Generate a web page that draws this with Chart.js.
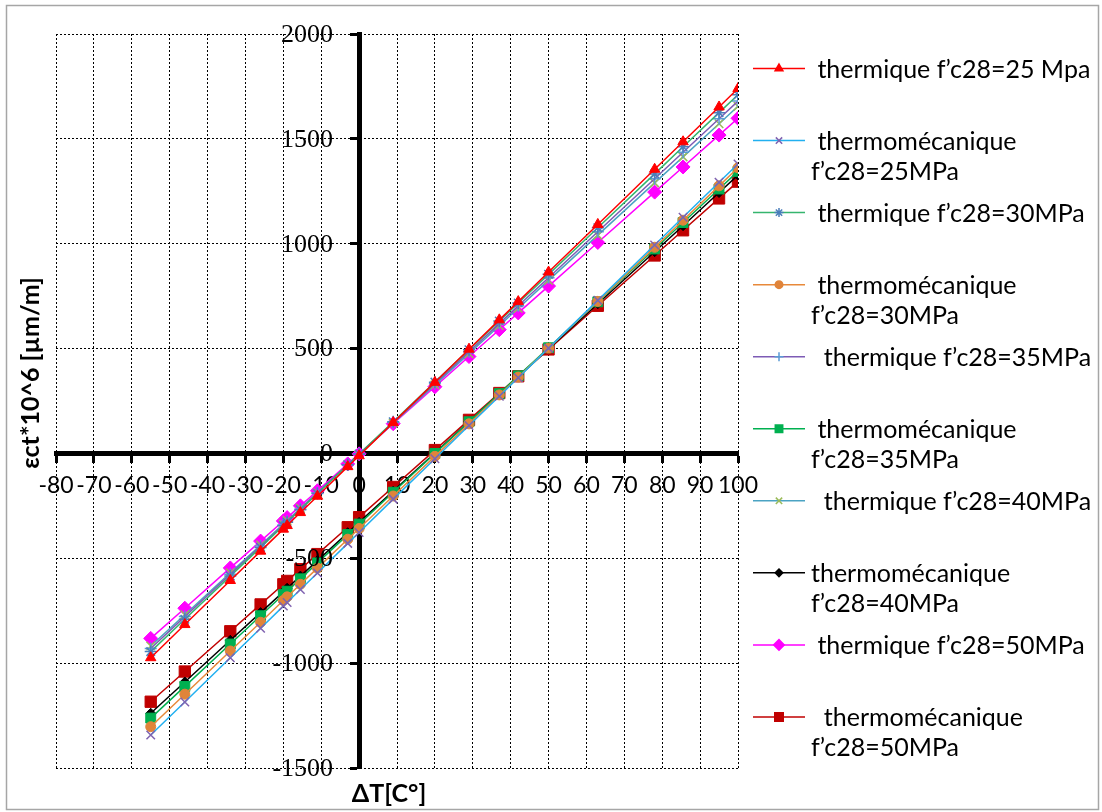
<!DOCTYPE html>
<html>
<head>
<meta charset="utf-8">
<title>Déformation thermique et thermomécanique</title>
<script src="https://cdn.jsdelivr.net/npm/chart.js@4.4.1/dist/chart.umd.min.js"></script>
<style>
  html, body { margin: 0; padding: 0; background: #fff; }
  #wrap { position: relative; width: 1102px; height: 812px; }
</style>
</head>
<body>
<div id="wrap"><canvas id="chart"></canvas></div>
<script>
// Temperature variation ΔT [°C]
const deltaT = [-55, -46, -34, -26, -20, -19, -15.5, -11, -3, 0, 9, 20, 29, 37, 42, 50, 63, 78, 85.5, 95, 100];

// Strain εct*10^6 [µm/m] per series
const thermique25 = [-974, -816, -606, -466, -361, -344, -282, -204, -63, -11, 147, 339, 497, 637, 724, 865, 1092, 1355, 1486, 1652, 1740];
const thermomeca25 = [-1343, -1185, -974, -834, -728, -711, -649, -570, -429, -377, -218, -25, 133, 273, 361, 502, 730, 994, 1126, 1293, 1380];
const thermique30 = [-945, -791, -585, -448, -345, -328, -268, -191, -54, -3, 151, 340, 494, 631, 717, 854, 1076, 1333, 1462, 1625, 1710];
const thermomeca30 = [-1303, -1148, -942, -805, -701, -684, -624, -547, -409, -358, -203, -14, 141, 279, 364, 502, 725, 983, 1112, 1276, 1362];
const thermique35 = [-930, -778, -576, -442, -341, -324, -265, -189, -54, -4, 148, 333, 485, 619, 704, 838, 1057, 1310, 1436, 1596, 1680];
const thermomeca35 = [-1262, -1111, -909, -774, -673, -657, -598, -522, -387, -337, -185, 0, 151, 285, 370, 504, 723, 975, 1101, 1261, 1345];
const thermique40 = [-918, -769, -569, -437, -337, -320, -262, -188, -55, -5, 144, 327, 476, 609, 692, 825, 1041, 1290, 1414, 1572, 1655];
const thermomeca40 = [-1239, -1090, -891, -759, -660, -643, -585, -511, -378, -329, -180, 2, 151, 284, 366, 499, 714, 962, 1086, 1244, 1327];
const thermique50 = [-882, -738, -546, -418, -322, -306, -250, -178, -50, -2, 142, 318, 462, 590, 670, 798, 1006, 1246, 1366, 1518, 1598];
const thermomeca50 = [-1184, -1040, -848, -720, -624, -608, -552, -480, -352, -304, -160, 16, 160, 288, 368, 496, 704, 944, 1064, 1216, 1296];

// Series names (legend text, "\n" marks the wrap)
const seriesNames = [
  ' thermique f’c28=25 Mpa',
  ' thermomécanique\nf’c28=25MPa',
  ' thermique f’c28=30MPa',
  ' thermomécanique\nf’c28=30MPa',
  '  thermique f’c28=35MPa',
  ' thermomécanique\nf’c28=35MPa',
  '  thermique f’c28=40MPa',
  'thermomécanique\nf’c28=40MPa',
  ' thermique f’c28=50MPa',
  '  thermomécanique\nf’c28=50MPa'
];

// Axis ticks
const xTicks = [-80, -70, -60, -50, -40, -30, -20, -10, 0, 10, 20, 30, 40, 50, 60, 70, 80, 90, 100];
const yTicks = [-1500, -1000, -500, 0, 500, 1000, 1500, 2000];

const seriesValues = [thermique25, thermomeca25, thermique30, thermomeca30, thermique35,
                      thermomeca35, thermique40, thermomeca40, thermique50, thermomeca50];

// Line colour, marker colour, marker shape, marker radius
const styles = [
  { line: '#FF0000', mark: '#FF0000', shape: 'triangle',  r: 6 },
  { line: '#22B0F0', mark: '#7F62B0', shape: 'crossRot',  r: 6 },
  { line: '#35B56E', mark: '#4A7EBB', shape: 'star',      r: 6 },
  { line: '#E8893A', mark: '#E0843A', shape: 'circle',    r: 5 },
  { line: '#7D5BB5', mark: '#5B9BD5', shape: 'cross',     r: 6 },
  { line: '#00B050', mark: '#00B050', shape: 'rect',      r: 7 },
  { line: '#4BA3C3', mark: '#9BBB59', shape: 'crossRot',  r: 6 },
  { line: '#000000', mark: '#000000', shape: 'rectRot',   r: 5 },
  { line: '#FF00FF', mark: '#FF00FF', shape: 'rectRot',   r: 7 },
  { line: '#C00000', mark: '#C00000', shape: 'rect',      r: 8 }
];

const datasets = seriesValues.map((vals, i) => {
  const s = styles[i];
  const open = (s.shape === 'crossRot' || s.shape === 'cross' || s.shape === 'star');
  return {
    label: seriesNames[i].trim().replace('\n', ' '),
    data: vals.map((v, k) => ({ x: deltaT[k], y: v })),
    showLine: true,
    borderColor: s.line,
    borderWidth: 1.5,
    pointStyle: s.shape,
    pointRadius: s.r,
    pointHoverRadius: s.r,
    pointBackgroundColor: s.mark,
    pointBorderColor: s.mark,
    pointBorderWidth: open ? 1.5 : 1
  };
});

function drawMarker(ctx, shape, r, x, y) {
  if (Chart.helpers && Chart.helpers.drawPoint) {
    Chart.helpers.drawPoint(ctx, { pointStyle: shape, radius: r, rotation: 0, borderWidth: ctx.lineWidth }, x, y);
    return;
  }
  ctx.beginPath();
  ctx.arc(x, y, r, 0, Math.PI * 2);
  ctx.fill();
}

// Frame, vertical-axis labels, legend and axis titles
const decorations = {
  id: 'decorations',
  beforeDraw(chart) {
    const ctx = chart.ctx;
    ctx.save();
    ctx.fillStyle = '#fff';
    ctx.fillRect(0, 0, chart.width, chart.height);
    ctx.strokeStyle = '#A6A6A6';
    ctx.lineWidth = 1.5;
    ctx.strokeRect(6.5, 5.5, 1092, 804);
    ctx.restore();
  },
  afterDraw(chart) {
    const ctx = chart.ctx;
    const xs = chart.scales.x, ys = chart.scales.y;
    ctx.save();
    // labels of the vertical axis, set just left of its tick marks
    const axisX = xs.getPixelForValue(0);
    ctx.fillStyle = '#000';
    ctx.font = '26px "Liberation Serif"';
    ctx.textAlign = 'right';
    ctx.textBaseline = 'middle';
    yTicks.forEach(v => {
      ctx.fillText(String(v), axisX - 26, ys.getPixelForValue(v) + 1);
    });
    // legend
    const x0 = 753, x1 = 805, tx = 811;
    ctx.font = '25px Lato';
    ctx.textBaseline = 'alphabetic';
    ctx.textAlign = 'left';
    seriesNames.forEach((name, i) => {
      const s = styles[i];
      const y = 68.5 + i * 72.05;
      ctx.strokeStyle = s.line;
      ctx.lineWidth = 1.5;
      ctx.beginPath();
      ctx.moveTo(x0, y);
      ctx.lineTo(x1, y);
      ctx.stroke();
      ctx.fillStyle = s.mark;
      ctx.strokeStyle = s.mark;
      drawMarker(ctx, s.shape, s.r * 0.75, (x0 + x1) / 2, y);
      ctx.fillStyle = '#000';
      name.split('\n').forEach((line, k) => {
        ctx.fillText(line, tx, y + 9 + k * 30);
      });
    });
    // axis titles
    ctx.fillStyle = '#000';
    ctx.font = 'bold 25px Lato';
    ctx.textAlign = 'center';
    ctx.textBaseline = 'middle';
    ctx.fillText('ΔT[C°]', 389, 794);
    ctx.translate(31, 373);
    ctx.rotate(-Math.PI / 2);
    ctx.fillText('εct*10^6 [µm/m]', 0, 0);
    ctx.restore();
  }
};

new Chart(document.getElementById('chart'), {
  type: 'scatter',
  data: { datasets },
  options: {
    responsive: true,
    maintainAspectRatio: false,
    animation: false,
    layout: { padding: { left: 56, top: 34, right: 364, bottom: 44 } },
    plugins: { legend: { display: false }, tooltip: { enabled: false } },
    scales: {
      x: {
        type: 'linear',
        min: -80, max: 100,
        position: { y: 0 },
        afterBuildTicks: (scale) => { scale.ticks = xTicks.map(v => ({ value: v })); },
        grid: { color: '#000', lineWidth: 1, tickColor: '#000', tickWidth: 3, tickLength: 7, tickBorderDash: [] },
        border: { display: true, color: '#000', width: 5, dash: [2, 2] },
        ticks: { color: '#000', font: { family: 'Lato', size: 23 }, padding: 11, maxRotation: 0, autoSkip: false,
                 callback: (v) => String(v) }
      },
      y: {
        type: 'linear',
        min: -1500, max: 2000,
        position: { x: 0 },
        afterBuildTicks: (scale) => { scale.ticks = yTicks.map(v => ({ value: v })); },
        grid: { color: '#000', lineWidth: 1, tickColor: '#000', tickWidth: 3, tickLength: 7, tickBorderDash: [] },
        border: { display: true, color: '#000', width: 5, dash: [2, 2] },
        ticks: { display: false }
      }
    }
  },
  plugins: [decorations]
});
</script>
</body>
</html>
